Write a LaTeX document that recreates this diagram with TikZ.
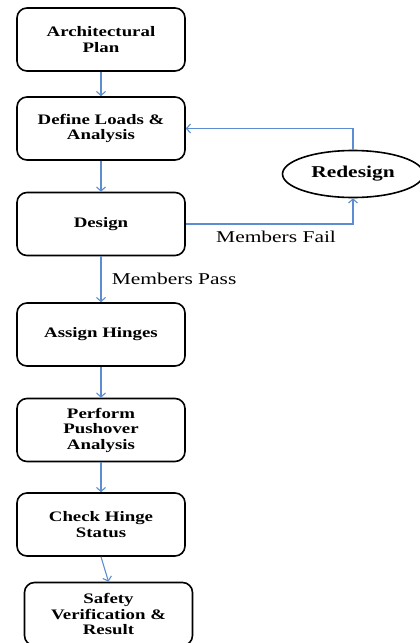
\documentclass[tikz,border=0pt]{standalone}
\usepackage{fontspec}
\setmainfont[FakeStretch=1.3]{Liberation Serif}
\usepackage{tikz}
\usetikzlibrary{positioning}
\usetikzlibrary{shapes.geometric}
\usetikzlibrary{arrows.meta}
\usepackage{xcolor}
\definecolor{flowblue}{RGB}{91,141,208}

\begin{document}
\begin{tikzpicture}[x=1pt, y=-1pt,
    stepbox/.style={draw, line width=1.6pt, rounded corners=10pt, minimum width=168pt,
        minimum height=63pt, align=center, font=\fontsize{14.5}{15.5}\selectfont\bfseries},
    loopnode/.style={draw, ellipse, line width=1.6pt, minimum width=141pt, minimum height=47pt,
        font=\fontsize{16.5}{18}\selectfont\bfseries},
    flow/.style={draw=flowblue, line width=1.1pt, -{Straight Barb[length=4pt,width=9pt]}},
    tag/.style={font=\fontsize{16.5}{18}\selectfont}]
    \useasboundingbox (0,0) rectangle (420,643);

    % Main steps
    \node[stepbox] (plan) at (101,39.5) {Architectural\\Plan};
    \node[stepbox] (loads) at (101,128.5) {Define Loads \&\\Analysis};
    \node[stepbox] (design) at (101,224) {Design};
    \node[stepbox] (hinges) at (101,334.5) {Assign Hinges};
    \node[stepbox] (pushover) at (101,430) {Perform\\Pushover\\Analysis};
    \node[stepbox] (check) at (101,524.5) {Check Hinge\\Status};
    \node[stepbox] (safety) at (108.5,614) {Safety\\Verification \&\\Result};

    % Redesign loop
    \node[loopnode] (redesign) at (353,174) {Redesign};

    % Connectors
    \draw[flow] (plan) -- (loads);
    \draw[flow] (loads) -- (design);
    \draw[flow] (design) -- node[tag, right=7pt] {Members Pass} (hinges);
    \draw[flow] (hinges) -- (pushover);
    \draw[flow] (pushover) -- (check);
    \draw[flow] (check.south) -- (safety.north);
    \draw[flow] (design.east) -| node[tag, pos=0.27, below=3pt] {Members Fail} (redesign.south);
    \draw[flow] (redesign.north) |- (loads.east);
\end{tikzpicture}
\end{document}
